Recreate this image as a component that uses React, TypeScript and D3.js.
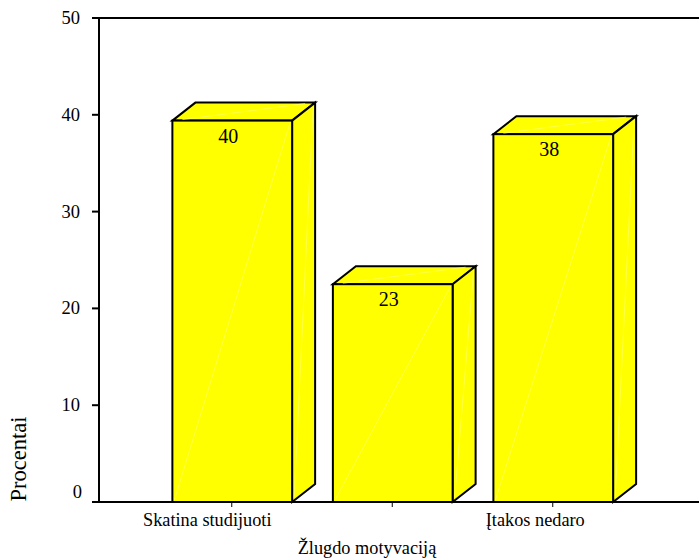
import React from "react";
import * as d3 from "d3";

const categories = ["Skatina studijuoti", "Vidutiniškai", "Įtakos nedaro"];
const tickLabels = ["Skatina studijuoti", "", "Įtakos nedaro"];
const barHeights = [39.4, 22.5, 38];
const barLabels = ["40", "23", "38"];
const yTicks = [0, 10, 20, 30, 40, 50];
const xTitle = "Žlugdo motyvaciją";
const yTitle = "Procentai";

const W = 699, H = 558;
const y = d3.scaleLinear().domain([0, 50]).range([502, 18]);
const x = d3.scaleBand<string>().domain(categories).range([152, 633.5]).paddingInner(0.254).paddingOuter(0.127);
const DX = 23, DY = -18;
const font = "'Liberation Serif', 'Times New Roman', serif";
const tickLabelDx = [-25, 0, -18];
const seam = "#ffff66";

export default function App() {
  const path = d3.path;
  const poly = (pts: [number, number][]) => {
    const p = path();
    pts.forEach(([a, b], i) => (i ? p.lineTo(a, b) : p.moveTo(a, b)));
    p.closePath();
    return p.toString();
  };
  return (
    <svg width={W} height={H} style={{ position: "absolute", left: 0, top: 0, background: "#fff" }} fontFamily={font} fill="#000">
      {categories.map((c, i) => {
        const x0 = x(c)!;
        const x1 = x0 + x.bandwidth();
        const yt = y(barHeights[i]);
        const yb = y(0);
        return (
          <g key={c}>
            <path d={poly([[x0, yt], [x1, yt], [x1 + DX, yt + DY], [x0 + DX, yt + DY]])} fill="#ffff00" stroke="#000" strokeWidth={2} strokeLinejoin="miter" />
            <path d={poly([[x1, yt], [x1 + DX, yt + DY], [x1 + DX, yb + DY], [x1, yb]])} fill="#ffff00" stroke="#000" strokeWidth={2} />
            <rect x={x0} y={yt} width={x1 - x0} height={yb - yt} fill="#ffff00" stroke="#000" strokeWidth={2} />
            <line x1={x0 + 2} y1={yb - 2} x2={x1 - 2} y2={yt + 2} stroke={seam} strokeWidth={0.7} />
            <line x1={x0 + 10} y1={yt - 1} x2={x1 + DX - 10} y2={yt + DY + 1} stroke={seam} strokeWidth={0.7} />
            <line x1={x1 + 2} y1={yb - 4} x2={x1 + DX - 2} y2={yt + DY + 4} stroke={seam} strokeWidth={0.7} />
            <text x={(x0 + x1) / 2 - 4} y={yt + 22} textAnchor="middle" fontSize={20}>{barLabels[i]}</text>
          </g>
        );
      })}
      <line x1={99} y1={y(50)} x2={W} y2={y(50)} stroke="#000" strokeWidth={2} />
      <line x1={99} y1={y(50) - 1} x2={99} y2={y(0) + 1} stroke="#000" strokeWidth={2} />
      <line x1={92} y1={y(0)} x2={W} y2={y(0)} stroke="#000" strokeWidth={2} />
      {yTicks.map((t) => (
        <g key={t}>
          <line x1={92} y1={y(t)} x2={99} y2={y(t)} stroke="#000" strokeWidth={2} />
          <text x={t === 0 ? 82 : 80} y={t === 0 ? y(t) - 4 : y(t) + 6} textAnchor="end" fontSize={18.5}>{t}</text>
        </g>
      ))}
      {categories.map((c, i) => {
        const cx = x(c)! + x.bandwidth() / 2;
        return (
          <g key={c}>
            <line x1={cx - 0.5} y1={503} x2={cx - 0.5} y2={507} stroke="#000" strokeWidth={1} />
            <text x={cx + tickLabelDx[i]} y={526} textAnchor="middle" fontSize={18.3}>{tickLabels[i]}</text>
          </g>
        );
      })}
      <text x={367} y={554} textAnchor="middle" fontSize={18.3}>{xTitle}</text>
      <text transform="translate(26,459) rotate(-90)" textAnchor="middle" fontSize={22.5}>{yTitle}</text>
    </svg>
  );
}
